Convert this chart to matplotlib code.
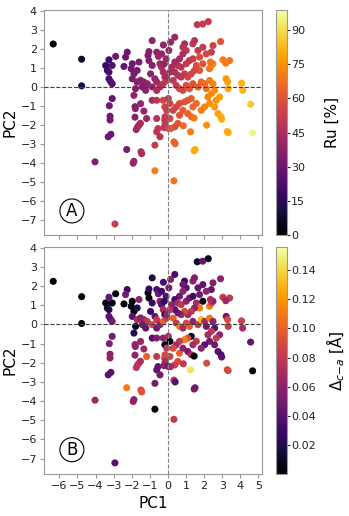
import numpy as np
import matplotlib
matplotlib.use("Agg")
import matplotlib.pyplot as plt

# ---- data (PC1, PC2, Ru %, Delta c-a) ----
pc1 = [
 -6.34, -4.77, -4.77, -3.44, -3.35, -3.26, -3.08, -3.26, -2.89, -3.26, -3.17, -3.08,
 -3.08, -3.24, -3.20, -3.20, -3.30, -3.15, -4.03, -2.28, -2.93, -1.92, -1.88, -1.49,
 -1.45, -1.75, -1.68, -1.60, -1.52, -1.82, -1.80, -1.82, -1.33, -1.18, -0.62, -0.55,
 -0.62, -0.44, -0.72, -0.72, 0.33, 0.33, 0.40, -0.18, -0.15, -0.22,
 -2.25, -2.34, -2.43, -1.97, -2.03, -1.88, -1.70, -1.60, -1.97, -1.70, -1.51, -1.33,
 -1.14, -1.42, -1.23, -0.87, -0.96, -1.05, -0.87, -1.88, -1.79, -1.51, -0.87, -0.87,
 -1.10, -1.05, -0.62, -0.53, -0.44, -0.35, -0.26, -0.17, -0.72, -0.62, -0.62, -0.44,
 -0.26, -0.07, -0.62, -0.26, -0.17, 0.02, -0.35, -0.10, -0.20, 0.05, 0.15, -0.25,
 0.38, 0.92, 0.83, 1.01, 1.38, 1.66, 0.83, 0.64, 0.38, 0.55, 0.73, 1.01,
 1.19, 1.38, 1.57, 1.75, 1.47, 1.29, 1.10, 0.92, 0.73, 0.55, 0.38, 0.20,
 0.11, -0.07, 0.29, 0.46, 0.64, 0.83, 1.01, 1.19, 1.38, 1.66, 1.84, 2.03,
 2.12, 2.30, 2.49, 2.58, 2.40, 2.21, 2.30, 2.03, 1.84, 1.57, 1.38, 1.29,
 1.10, 0.92, 0.64, 0.46, 0.29, 0.11, -0.07, 0.64, 0.83, 1.10, 1.29, 1.45,
 0.55, 0.38, 0.02, 0.11, -0.16, 2.86, 2.67, 2.58, 2.77, 2.93, 2.97, 3.22,
 3.30, 3.33, 3.41, 3.04, 3.20, 2.49, 2.91, 2.40, 2.30, 2.40, 2.49, 2.35,
 1.93, 1.75, 2.12, 1.93, 1.47, 1.62, 1.92, 2.23, 4.07, 4.13, 4.57, 4.68,
 3.33, 3.28, 2.14, 1.45, 1.50, 1.25, 0.85, 0.15,
]
pc2 = [
 2.25, 1.45, 0.05, 1.12, 0.86, 0.77, 1.12, 1.42, 1.60, 0.42, 0.27, 0.16,
 -0.62, -1.00, -1.55, -1.75, -2.63, -2.50, -3.95, -3.30, -7.22, -4.02, -3.92, -3.42,
 -3.52, -2.25, -2.12, -2.02, -1.92, -1.05, -1.15, -1.60, -1.28, -1.67, -1.67, -2.20,
 -2.37, -2.63, -3.07, -4.42, -4.95, -2.90, -3.00, -1.75, -1.95, -2.15,
 1.82, 1.56, 1.07, 1.21, 0.95, 0.68, 0.86, 1.30, 0.42, 0.25, 0.34, 0.25,
 0.16, -0.01, -0.19, -0.01, 0.68, 1.38, 1.12, -0.45, -0.10, -0.89, -0.71, 2.43,
 1.65, 1.85, 1.82, 1.60, 1.21, 1.03, 0.77, 0.51, 0.42, 0.25, -0.19, -0.01,
 0.16, 0.33, -0.71, -0.71, -1.06, -0.62, 1.73, 1.47, 1.21, 1.91, 2.35, 2.20,
 2.61, 2.26, 2.08, 1.91, 2.26, 1.91, 1.73, 1.47, 1.30, 1.12, 1.03, 1.21,
 1.38, 1.47, 1.12, 0.86, 0.86, 0.68, 0.51, 0.68, 0.51, 0.60, 0.77, 1.03,
 0.77, 0.51, 0.33, 0.07, -0.10, -0.19, 0.07, -0.10, 0.16, -0.01, 0.25, 0.16,
 -0.10, 0.33, 0.16, -0.19, -0.36, -0.54, -0.88, -1.06, -1.24, -0.88, -1.06, -0.62,
 -0.71, -0.80, -0.88, -1.06, -1.24, -0.88, -1.24, -1.50, -1.24, -1.41, -1.58, -1.65,
 -1.93, -2.11, -2.19, -1.67, -1.58, -0.54, -0.71, -1.06, -1.41, -1.58, -1.70, 0.42,
 0.25, -0.10, 1.38, 1.42, 1.24, 2.17, 2.38, 1.82, 0.95, 1.12, 1.21, 1.30,
 1.21, 1.56, 1.73, 2.08, 2.43, 3.27, 3.30, 3.43, 0.19, -0.19, -0.92, -2.42,
 -2.41, -2.36, -2.02, -3.37, -3.30, -2.37, -2.05, -2.20,
]
ru = [
 0, 8, 12, 18, 20, 22, 24, 20, 30, 22, 24, 25,
 28, 30, 32, 32, 30, 30, 35, 33, 52, 40, 40, 45,
 45, 42, 43, 44, 45, 35, 36, 37, 40, 42, 48, 50,
 50, 48, 52, 70, 68, 65, 64, 52, 50, 50,
 30, 30, 28, 30, 32, 33, 33, 34, 34, 36, 37, 38,
 38, 36, 38, 40, 38, 35, 36, 38, 36, 40, 44, 38,
 35, 36, 38, 40, 42, 44, 45, 46, 40, 42, 45, 47,
 48, 50, 50, 55, 55, 52, 40, 42, 40, 40, 40, 38,
 42, 45, 48, 50, 50, 52, 45, 44, 42, 46, 48, 52,
 50, 52, 58, 60, 56, 55, 55, 52, 50, 48, 46, 44,
 45, 44, 50, 52, 55, 56, 58, 60, 60, 63, 64, 66,
 68, 70, 72, 74, 74, 72, 75, 72, 70, 66, 65, 63,
 62, 60, 58, 56, 55, 54, 53, 60, 62, 64, 66, 70,
 60, 58, 55, 56, 52, 78, 76, 76, 78, 80, 80, 76,
 78, 80, 68, 70, 70, 55, 60, 52, 68, 70, 72, 68,
 60, 58, 56, 52, 48, 50, 52, 52, 82, 82, 86, 96,
 80, 80, 75, 80, 80, 70, 66, 60,
]
dca = [
 0.002, 0.005, 0.003, 0.008, 0.012, 0.020, 0.004, 0.045, 0.004, 0.045, 0.040, 0.050,
 0.050, 0.055, 0.060, 0.062, 0.040, 0.042, 0.065, 0.110, 0.040, 0.065, 0.060, 0.090,
 0.095, 0.080, 0.075, 0.080, 0.070, 0.065, 0.060, 0.060, 0.065, 0.100, 0.080, 0.040,
 0.045, 0.050, 0.050, 0.005, 0.080, 0.080, 0.040, 0.080, 0.070, 0.060,
 0.030, 0.050, 0.003, 0.002, 0.005, 0.003, 0.020, 0.060, 0.040, 0.070, 0.060, 0.065,
 0.080, 0.050, 0.045, 0.090, 0.030, 0.002, 0.030, 0.020, 0.010, 0.065, 0.040, 0.020,
 0.002, 0.025, 0.035, 0.050, 0.060, 0.040, 0.070, 0.020, 0.045, 0.080, 0.050, 0.060,
 0.100, 0.080, 0.055, 0.060, 0.008, 0.070, 0.030, 0.040, 0.025, 0.050, 0.060, 0.035,
 0.035, 0.030, 0.050, 0.040, 0.060, 0.045, 0.060, 0.050, 0.035, 0.070, 0.080, 0.060,
 0.050, 0.030, 0.070, 0.110, 0.060, 0.080, 0.070, 0.090, 0.065, 0.050, 0.040, 0.060,
 0.075, 0.060, 0.100, 0.080, 0.110, 0.070, 0.090, 0.100, 0.060, 0.080, 0.130, 0.070,
 0.050, 0.110, 0.060, 0.040, 0.080, 0.070, 0.050, 0.040, 0.060, 0.080, 0.070, 0.005,
 0.090, 0.110, 0.080, 0.070, 0.090, 0.002, 0.080, 0.100, 0.060, 0.050, 0.070, 0.004,
 0.090, 0.085, 0.050, 0.085, 0.090, 0.060, 0.080, 0.050, 0.040, 0.035, 0.040, 0.050,
 0.090, 0.080, 0.080, 0.080, 0.065, 0.055, 0.060, 0.045, 0.110, 0.090, 0.060, 0.070,
 0.005, 0.050, 0.060, 0.045, 0.055, 0.010, 0.045, 0.008, 0.085, 0.070, 0.045, 0.002,
 0.090, 0.090, 0.090, 0.050, 0.050, 0.145, 0.080, 0.070,
]

ru_ticks = [0, 15, 30, 45, 60, 75, 90]
dca_ticks = [0.02, 0.04, 0.06, 0.08, 0.10, 0.12, 0.14]
x_ticks = [-6, -5, -4, -3, -2, -1, 0, 1, 2, 3, 4, 5]
y_ticks = [-7, -6, -5, -4, -3, -2, -1, 0, 1, 2, 3, 4]

W, H = 349, 516
fig = plt.figure(figsize=(W / 100, H / 100), dpi=100)

def fx(px):
    return px / W

def fy(py):
    return 1 - py / H

axA = fig.add_axes([fx(44), fy(235), fx(262) - fx(44), fy(10) - fy(235)])
axB = fig.add_axes([fx(44), fy(474), fx(262) - fx(44), fy(247) - fy(474)])
caxA = fig.add_axes([fx(276), fy(235), fx(287) - fx(276), fy(10) - fy(235)])
caxB = fig.add_axes([fx(276), fy(474), fx(287) - fx(276), fy(247) - fy(474)])

spine_col = '#999999'
panels = [
    (axA, caxA, ru, 0, 98.8, ru_ticks, 'Ru [%]', 'A', '{:.0f}', 14),
    (axB, caxB, dca, 0.0, 0.156, dca_ticks, r'$\Delta_{c\mathrm{-}a}$ [$\mathrm{\AA}$]', 'B', '{:.2f}', 6),
]
for ax, cax, vals, vmin, vmax, cticks, clabel, letter, fmt, lpad in panels:
    ax.axhline(0, color='0.25', ls='--', lw=0.8, zorder=3)
    ax.axvline(0, color='0.5', ls='--', lw=0.8, zorder=3)
    sc = ax.scatter(pc1, pc2, c=vals, cmap='inferno', vmin=vmin, vmax=vmax,
                    s=26, edgecolors='none', zorder=2)
    ax.set_xlim(-6.85, 5.2)
    ax.set_ylim(-7.8, 4.04)
    ax.set_xticks(x_ticks)
    ax.set_yticks(y_ticks)
    ax.set_ylabel('PC2', fontsize=11, labelpad=2)
    for s in ax.spines.values():
        s.set_color(spine_col)
    ax.tick_params(colors=spine_col, labelcolor='#222222', labelsize=8,
                   length=3, width=0.8, pad=2)
    ax.text(0.128, 0.107, letter, transform=ax.transAxes, ha='center',
            va='center', fontsize=12,
            bbox=dict(boxstyle='circle,pad=0.18', fc='white', ec='black', lw=0.8))
    cb = fig.colorbar(sc, cax=cax)
    cb.set_ticks(cticks)
    cb.set_ticklabels([fmt.format(t) for t in cticks])
    cb.outline.set_edgecolor(spine_col)
    cax.tick_params(colors='#222222', labelsize=8, length=2, width=0.8, pad=1)
    cb.set_label(clabel, fontsize=11, labelpad=lpad)

axA.tick_params(labelbottom=False)
axB.set_xlabel('PC1', fontsize=11, labelpad=4)

fig.savefig('out.png', dpi=100)
